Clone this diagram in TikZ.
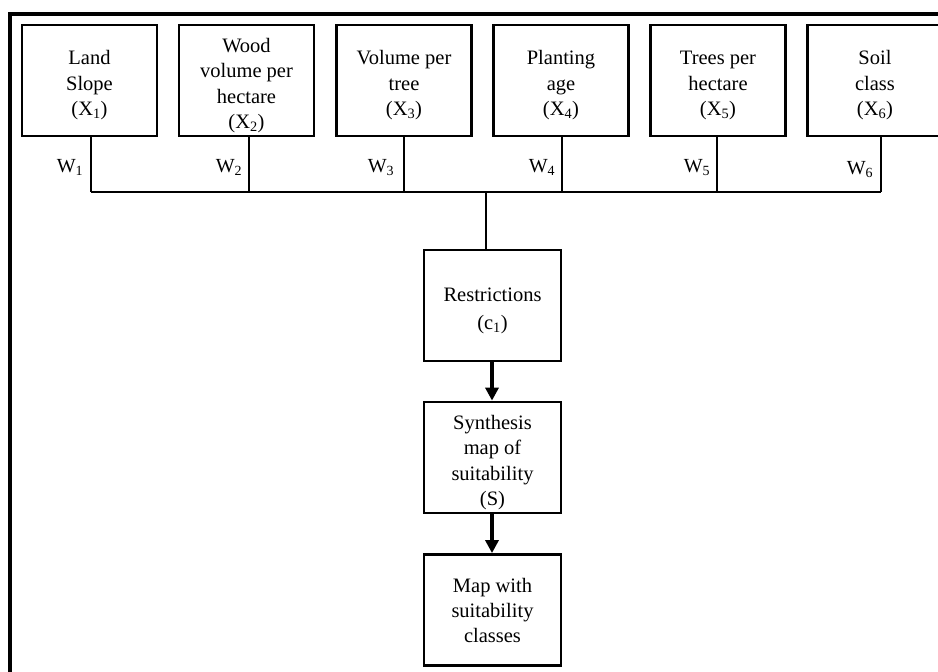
\documentclass[tikz,border=0pt]{standalone}
\usepackage{fontspec}
\setmainfont{Liberation Serif}
\usetikzlibrary{arrows.meta}
\newcommand{\topstrut}{\rule{0pt}{24pt}}
\begin{document}
\begin{tikzpicture}[x=1pt,y=-1pt,
  box/.style={draw,line width=2.8pt,minimum width=135pt,minimum height=111pt,
    align=center,inner sep=2pt,font=\fontsize{20.5}{25.5}\selectfont},
  conn/.style={line width=2.3pt},
  flow/.style={line width=4pt,-{Triangle[width=13pt,length=13pt]}},
  wlab/.style={font=\fontsize{20}{22}\selectfont,inner sep=0pt}]
\useasboundingbox (0,0) rectangle (938,672);
\clip (0,0) rectangle (938,672);
\draw[line width=4pt] (10,13.5) rectangle (980,720);
% input boxes
\node[box] (land)  at (89.5,80.5) {\topstrut Land\\Slope\\(X\textsubscript{1})};
\node[box] (wood)  at (246.5,80.5) {\topstrut Wood\\volume per\\hectare\\(X\textsubscript{2})};
\node[box] (vol)   at (404,80.5) {\topstrut Volume per\\tree\\(X\textsubscript{3})};
\node[box] (plant) at (561,80.5) {\topstrut Planting\\age\\(X\textsubscript{4})};
\node[box] (trees) at (718,80.5) {\topstrut Trees per\\hectare\\(X\textsubscript{5})};
\node[box] (soil)  at (875,80.5) {\topstrut Soil\\class\\(X\textsubscript{6})};
% lower boxes
\node[box,minimum width=137pt] (restr) at (492.5,305.5) {\topstrut Restrictions\\[2pt](c\textsubscript{1})};
\node[box,minimum width=137pt] (synth) at (492.5,457.5) {\topstrut Synthesis\\map of\\suitability\\(S)};
\node[box,minimum width=137pt,font=\fontsize{20.5}{25}\selectfont] (map) at (492.5,610) {\rule{0pt}{16pt}Map with\\suitability\\classes};
% bus
\coordinate (bus) at (486,192);
\coordinate (s1) at ([xshift=1.5pt]land.south);
\coordinate (s2) at ([xshift=2.5pt]wood.south);
\coordinate (s3) at (vol.south);
\coordinate (s4) at ([xshift=1pt]plant.south);
\coordinate (s5) at ([xshift=-1pt]trees.south);
\coordinate (s6) at ([xshift=6pt]soil.south);
\foreach \i in {1,...,6} {\draw[conn] (s\i) -- (s\i |- bus);}
\draw[conn] (s1 |- bus) -- (s6 |- bus);
\draw[conn] (bus) -- (bus |- restr.north);
% weights
\node[wlab] (w1) at ([xshift=-21pt,yshift=-30pt]s1) {W\textsubscript{1}};
\node[wlab] (w2) at ([xshift=-20pt,yshift=-30pt]s2) {W\textsubscript{2}};
\node[wlab] (w3) at ([xshift=-23pt,yshift=-30pt]s3) {W\textsubscript{3}};
\node[wlab] (w4) at ([xshift=-20pt,yshift=-30pt]s4) {W\textsubscript{4}};
\node[wlab] (w5) at ([xshift=-20pt,yshift=-30pt]s5) {W\textsubscript{5}};
\node[wlab] (w6) at ([xshift=-21pt,yshift=-32pt]s6) {W\textsubscript{6}};
% flow arrows
\draw[flow] ([xshift=-0.5pt]restr.south) -- ([xshift=-0.5pt]synth.north);
\draw[flow] ([xshift=-0.5pt]synth.south) -- ([xshift=-0.5pt]map.north);
\end{tikzpicture}
\end{document}
